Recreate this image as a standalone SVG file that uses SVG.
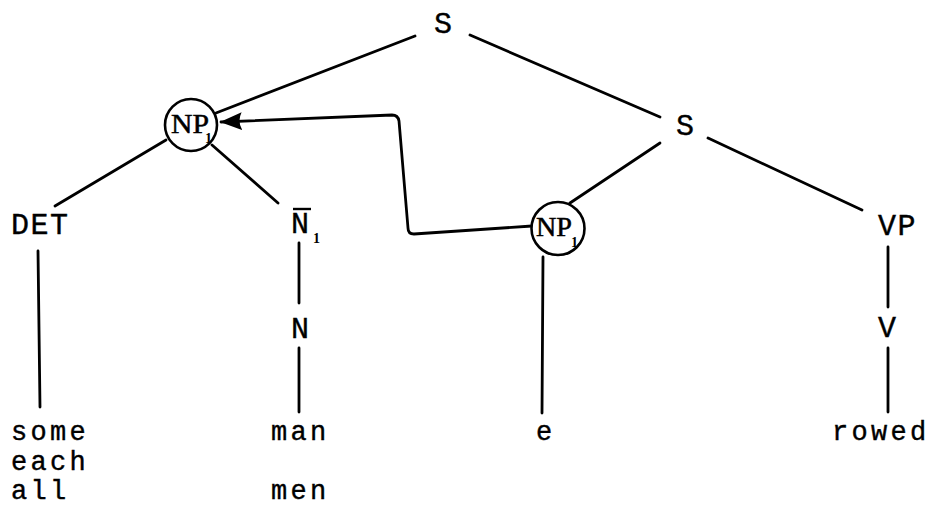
<svg xmlns="http://www.w3.org/2000/svg" width="940" height="511" viewBox="0 0 940 511">
<style>
  .lbl { font-family: "Liberation Mono", "DejaVu Sans Mono", monospace; font-size: 30px; letter-spacing: 1.5px; fill: #000; stroke: #000; stroke-width: 0.4px; }
  .wd { font-family: "Liberation Mono", "DejaVu Sans Mono", monospace; font-size: 27px; letter-spacing: 3.3px; fill: #000; stroke: #000; stroke-width: 0.4px; }
  .np { font-family: "Liberation Serif", "DejaVu Serif", serif; font-size: 27px; fill: #000; stroke: #000; stroke-width: 0.5px; }
  .sub { font-family: "Liberation Serif", "DejaVu Serif", serif; font-size: 14px; font-weight: bold; fill: #000; }
  .edge { stroke: #000; stroke-width: 2.8; stroke-linecap: round; fill: none; }
  .ring { stroke: #000; stroke-width: 2.6; fill: #fff; }
</style>
<defs>
  <marker id="arrow" markerUnits="userSpaceOnUse" viewBox="0 0 22 18" refX="21" refY="9" markerWidth="22" markerHeight="18" orient="auto">
    <path d="M0,0 L22,9 L0,18 Q5,9 0,0 z" fill="#000"/>
  </marker>
</defs>
<rect width="940" height="511" fill="#fff"/>
<g id="connectors">
  <line class="edge" x1="415" y1="36" x2="216" y2="113"/>
  <line class="edge" x1="470" y1="35" x2="660" y2="117"/>
  <line class="edge" x1="660" y1="143" x2="570" y2="203"/>
  <line class="edge" x1="708" y1="138" x2="862" y2="210"/>
  <line class="edge" x1="166" y1="140" x2="55" y2="206"/>
  <line class="edge" x1="212" y1="145" x2="278" y2="203"/>
  <line class="edge" x1="38" y1="251" x2="40" y2="407"/>
  <line class="edge" x1="299" y1="243" x2="299" y2="303"/>
  <line class="edge" x1="299" y1="348" x2="299" y2="412"/>
  <line class="edge" x1="543" y1="257" x2="542" y2="413"/>
  <line class="edge" x1="888" y1="247" x2="888" y2="307"/>
  <line class="edge" x1="888" y1="348" x2="888" y2="412"/>
  <path class="edge" d="M532,226 L414,234 Q408,234 408,228 L399,121 Q398,115 392,115 L221,122" marker-end="url(#arrow)"/>
</g>
<g id="node-S-top"><text class="lbl" x="434" y="33">S</text></g>
<g id="node-S-inner"><text class="lbl" x="676" y="135">S</text></g>
<g id="node-NP1-top">
  <circle class="ring" cx="191" cy="125" r="26"/>
  <text class="np" x="171" y="133" textLength="38" lengthAdjust="spacingAndGlyphs">NP</text><text class="sub" x="205" y="143">1</text>
</g>
<g id="node-NP1-trace">
  <circle class="ring" cx="558" cy="228.5" r="26.5"/>
  <text class="np" x="536" y="236" textLength="36" lengthAdjust="spacingAndGlyphs">NP</text><text class="sub" x="571" y="247">1</text>
</g>
<g id="node-DET"><text class="lbl" x="11" y="234">DET</text></g>
<g id="node-Nbar">
  <text class="lbl" x="291" y="233">N</text>
  <line x1="293" y1="209" x2="311" y2="209" stroke="#000" stroke-width="2.4"/>
  <text class="sub" x="313" y="243">1</text>
</g>
<g id="node-N"><text class="lbl" x="291" y="338">N</text></g>
<g id="node-VP"><text class="lbl" x="878" y="235">VP</text></g>
<g id="node-V"><text class="lbl" x="878" y="337">V</text></g>
<g id="node-DET-words">
  <text class="wd" x="11" y="440">some</text>
  <text class="wd" x="11" y="470">each</text>
  <text class="wd" x="11" y="499">all</text>
</g>
<g id="node-N-words">
  <text class="wd" x="271" y="440">man</text>
  <text class="wd" x="271" y="499">men</text>
</g>
<g id="node-e"><text class="wd" x="536" y="440">e</text></g>
<g id="node-rowed"><text class="wd" x="832" y="440">rowed</text></g>
</svg>
